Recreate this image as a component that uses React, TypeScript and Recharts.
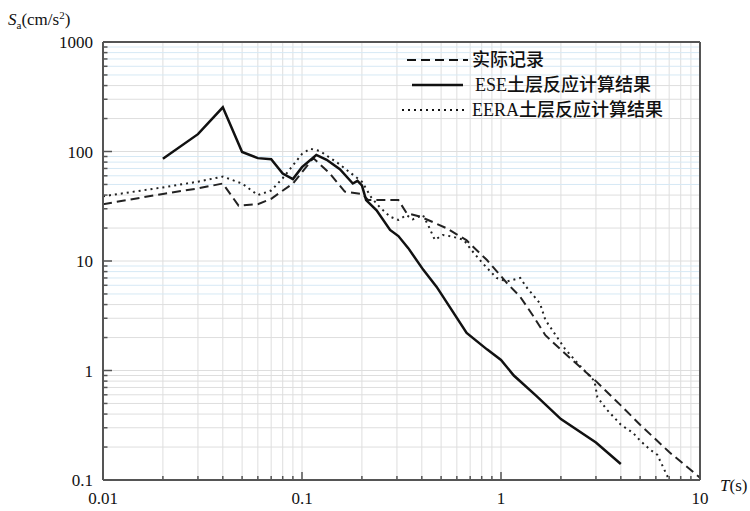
import { LineChart, Line, XAxis, YAxis, CartesianGrid, ReferenceLine } from 'recharts';

// 实际记录 (dashed)
const recordT = [0.01, 0.02, 0.03, 0.04, 0.048, 0.06, 0.07, 0.09, 0.114, 0.138, 0.164, 0.2, 0.215, 0.305, 0.335, 0.39, 0.43, 0.53, 0.67, 0.85, 1.07, 1.25, 1.46, 1.67, 2.2, 3, 4, 5, 7, 10];
const recordSa = [33, 41, 46, 51, 32, 33, 37, 51, 87, 63, 43, 41, 36, 36, 27.5, 25.5, 23.7, 20, 15.5, 10.2, 6.3, 4.7, 3.1, 2.1, 1.32, 0.8, 0.48, 0.32, 0.18, 0.105];

// ESE土层反应计算结果 (solid)
const eseT = [0.02, 0.03, 0.04, 0.05, 0.06, 0.07, 0.08, 0.09, 0.1, 0.118, 0.133, 0.155, 0.18, 0.19, 0.2, 0.21, 0.237, 0.277, 0.305, 0.342, 0.407, 0.475, 0.672, 0.85, 1.0, 1.16, 1.5, 2.0, 3.0, 4.0];
const eseSa = [86, 144, 253, 99, 87, 85, 63, 56, 72, 93, 84, 69, 51, 54, 49, 36, 29, 19.2, 16.9, 13.1, 8.3, 5.8, 2.2, 1.56, 1.25, 0.9, 0.59, 0.36, 0.22, 0.14];

// EERA土层反应计算结果 (dotted)
const eeraT = [0.01, 0.02, 0.03, 0.04, 0.05, 0.06, 0.07, 0.08, 0.1, 0.11, 0.123, 0.152, 0.181, 0.2, 0.223, 0.246, 0.277, 0.305, 0.335, 0.36, 0.405, 0.43, 0.465, 0.51, 0.57, 0.65, 0.71, 0.81, 0.95, 1.07, 1.25, 1.34, 1.57, 1.67, 2.1, 2.5, 2.95, 3.05, 3.4, 4, 4.6, 5.05, 5.6, 6.1, 7];
const eeraSa = [39, 47, 53, 59, 51, 40, 44, 57, 95, 106, 101, 78, 61, 53, 38, 31, 25.4, 23.7, 26.3, 24, 26.3, 21.3, 15.6, 17.3, 16.7, 15.6, 12.6, 9.5, 7, 6.5, 7, 5.8, 4.1, 2.9, 1.57, 1.1, 0.8, 0.57, 0.44, 0.32, 0.27, 0.225, 0.19, 0.17, 0.1];

const xMajor = [0.01, 0.1, 1, 10];
const xLabels = ['0.01', '0.1', '1', '10'];
const yMajor = [0.1, 1, 10, 100, 1000];
const yLabels = ['0.1', '1', '10', '100', '1000'];
const mantissas = [1, 2, 3, 4, 5, 6, 7, 8, 9];

// legend: latin prefix + chinese part
const legendLatin = ['', 'ESE', 'EERA'];
const legendCjk = ['实际记录', '土层反应计算结果', '土层反应计算结果'];

const toPoints = (ts: number[], vals: number[]) => ts.map((T, i) => ({ T, Sa: vals[i] }));
const recordData = toPoints(recordT, recordSa);
const eseData = toPoints(eseT, eseSa);
const eeraData = toPoints(eeraT, eeraSa);

const round = (v: number) => parseFloat(v.toPrecision(6));
const expand = (majors: number[]) => {
  const out: number[] = [];
  majors.slice(0, -1).forEach((m) => mantissas.forEach((k) => out.push(round(m * k))));
  out.push(majors[majors.length - 1]);
  return out;
};
const xTicks = expand(xMajor);
const yTicks = expand(yMajor);
const yGrey = yTicks.filter((v) => Number(v.toPrecision(1)[0]) < 5 || yMajor.includes(v));
const yBlue = yTicks.filter((v) => !yGrey.includes(v));

const SERIF = "'Liberation Serif', 'Times New Roman', 'DejaVu Serif', serif";
const CJK = "'Noto Sans CJK SC', sans-serif";
const AXIS = '#555';

const XTick = (props: any) => {
  const { x, y, payload } = props;
  const idx = xMajor.findIndex((m) => Math.abs(m - payload.value) / m < 1e-6);
  const major = idx >= 0;
  return (
    <g>
      <line x1={x} y1={y} x2={x} y2={y - (major ? 8 : 4)} stroke={AXIS} strokeWidth={1.5} />
      {major && (
        <text x={x} y={y + 24} textAnchor="middle" style={{ fontFamily: SERIF, fontSize: 17 }} fill="#111">
          {xLabels[idx]}
        </text>
      )}
    </g>
  );
};

const YTick = (props: any) => {
  const { x, y, payload } = props;
  const idx = yMajor.findIndex((m) => Math.abs(m - payload.value) / m < 1e-6);
  const major = idx >= 0;
  return (
    <g>
      <line x1={x} y1={y} x2={x + (major ? 9 : 4.5)} y2={y} stroke={AXIS} strokeWidth={1.5} />
      {major && (
        <text x={x - 10} y={y + 6} textAnchor="end" style={{ fontFamily: SERIF, fontSize: 17 }} fill="#111">
          {yLabels[idx]}
        </text>
      )}
    </g>
  );
};

const LegendRow = ({ y, x1, x2, tx, dash, width, i }: any) => (
  <g>
    <line x1={x1} y1={y} x2={x2} y2={y} stroke="#111" strokeWidth={width} strokeDasharray={dash} />
    <text x={tx} y={y + 6} style={{ fontSize: 18 }} fill="#111">
      {legendLatin[i] && <tspan style={{ fontFamily: SERIF }}>{legendLatin[i]}</tspan>}
      <tspan style={{ fontFamily: CJK, fontWeight: 500 }}>{legendCjk[i]}</tspan>
    </text>
  </g>
);

export default function App() {
  return (
    <div style={{ position: 'absolute', left: 0, top: 0, width: 750, height: 511, background: '#fff' }}>
      <LineChart width={750} height={511} margin={{ top: 42, right: 50, bottom: 0, left: 0 }}>
        <CartesianGrid stroke="#dedede" strokeWidth={1} verticalValues={xTicks} horizontalValues={yGrey} />
        <CartesianGrid stroke="#d6e9f5" strokeWidth={1} vertical={false} horizontalValues={yBlue} />
        <XAxis
          dataKey="T"
          type="number"
          scale="log"
          domain={[0.01, 10]}
          allowDataOverflow
          ticks={xTicks}
          interval={0}
          height={31}
          tickSize={0}
          tickMargin={0}
          tickLine={false}
          axisLine={{ stroke: AXIS, strokeWidth: 2 }}
          tick={(p: any) => <XTick {...p} />}
        />
        <YAxis
          type="number"
          scale="log"
          domain={[0.1, 1000]}
          allowDataOverflow
          ticks={yTicks}
          interval={0}
          width={103}
          tickSize={0}
          tickMargin={0}
          tickLine={false}
          axisLine={{ stroke: AXIS, strokeWidth: 2 }}
          tick={(p: any) => <YTick {...p} />}
        />
        <ReferenceLine y={1000} stroke={AXIS} strokeWidth={2} ifOverflow="visible" />
        <ReferenceLine x={10} stroke={AXIS} strokeWidth={2} ifOverflow="visible" />
        <Line data={recordData} dataKey="Sa" type="linear" stroke="#222" strokeWidth={2} strokeDasharray="9 5" dot={false} isAnimationActive={false} />
        <Line data={eseData} dataKey="Sa" type="linear" stroke="#111" strokeWidth={2.5} dot={false} isAnimationActive={false} />
        <Line data={eeraData} dataKey="Sa" type="linear" stroke="#222" strokeWidth={2} strokeDasharray="2 4" dot={false} isAnimationActive={false} />
      </LineChart>
      <svg width={750} height={511} style={{ position: 'absolute', left: 0, top: 0, pointerEvents: 'none' }}>
        <text x={8} y={25} style={{ fontFamily: SERIF, fontSize: 17 }} fill="#111">
          <tspan fontStyle="italic">S</tspan>
          <tspan fontSize={11} dy={4}>a</tspan>
          <tspan dy={-4}>(cm/s</tspan>
          <tspan fontSize={11} dy={-6}>2</tspan>
          <tspan dy={6}>)</tspan>
        </text>
        <text x={720} y={491} style={{ fontFamily: SERIF, fontSize: 17 }} fill="#111">
          <tspan fontStyle="italic">T</tspan>(s)
        </text>
        <LegendRow i={0} y={60} x1={407} x2={468} tx={472} dash="9 5" width={2} />
        <LegendRow i={1} y={85} x1={412} x2={463} tx={475} dash={undefined} width={2.5} />
        <LegendRow i={2} y={110} x1={402} x2={467} tx={472} dash="2 4" width={2} />
      </svg>
    </div>
  );
}
